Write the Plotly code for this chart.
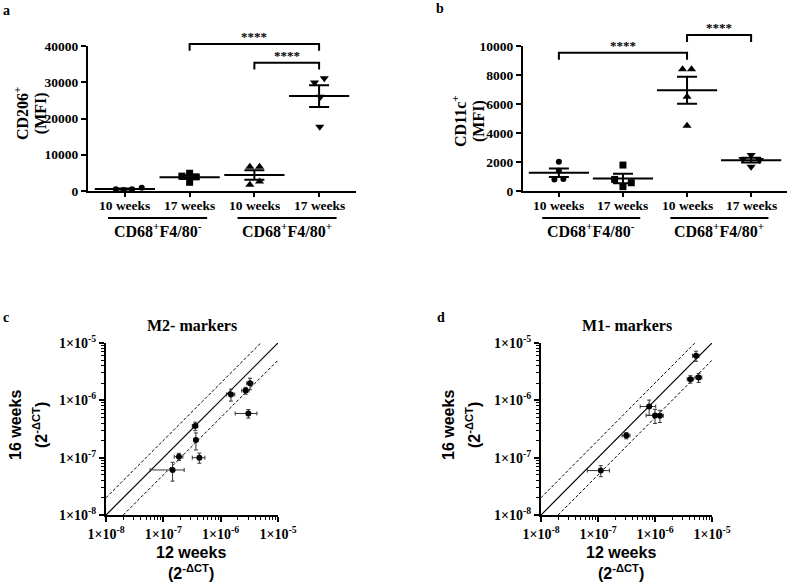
import numpy as np
import plotly.graph_objects as go

W, H = 787, 585
def px(x): return x / W
def py(y): return 1 - y / H

SERIF = "Liberation Serif"
SANS = "Liberation Sans"

# ---------------- data ----------------
cats = ["10 weeks", "17 weeks", "10 weeks", "17 weeks"]
group_labels = ["CD68<sup>+</sup>F4/80<sup>-</sup>", "CD68<sup>+</sup>F4/80<sup>+</sup>"]

# panel a: CD206+ (MFI)
a_neg10 = [450, 280, 470, 900]
a_neg17 = [4100, 4900, 3900, 2400]
a_pos10 = [6700, 6700, 1700, 2600]
a_pos17 = [31100, 29900, 26000, 17700]
# panel b: CD11c+ (MFI)
b_neg10 = [2020, 1400, 800, 820]
b_neg17 = [1790, 800, 570, 300]
b_pos10 = [8400, 8400, 6500, 4500]
b_pos17 = [2480, 2200, 2140, 1680]

# significance brackets: (from group, to group, height, label)
a_sig = [(1, 3, 40550, "****"), (2, 3, 35400, "****")]
b_sig = [(0, 2, 9540, "****"), (2, 3, 10760, "****")]

# panel c: M2 markers (12 weeks vs 16 weeks, 2^-dCT)
c_x = [1.45e-7, 1.87e-7, 3.6e-7, 3.7e-7, 4.25e-7, 1.51e-6, 2.73e-6, 3.25e-6, 3.04e-6]
c_y = [6.1e-8, 1.04e-7, 3.56e-7, 2.03e-7, 1.0e-7, 1.27e-6, 1.48e-6, 1.98e-6, 5.9e-7]
c_xerr = [8.6e-8, 3.2e-8, 4e-8, 3e-8, 1.05e-7, 2.5e-7, 4e-7, 4e-7, 1.25e-6]
c_yerr = [2.2e-8, 1.5e-8, 6e-8, 6.7e-8, 2e-8, 3e-7, 2e-7, 4.5e-7, 1e-7]
# panel d: M1 markers
d_x = [1.12e-7, 3.14e-7, 7.9e-7, 1.0e-6, 1.22e-6, 4.18e-6, 5.83e-6, 5.25e-6]
d_y = [5.95e-8, 2.43e-7, 7.8e-7, 5.45e-7, 5.4e-7, 2.34e-6, 2.5e-6, 6.0e-6]
d_xerr = [4.7e-8, 5e-8, 2.4e-7, 3e-7, 1.8e-7, 5e-7, 8e-7, 7e-7]
d_yerr = [1.3e-8, 3e-8, 2.3e-7, 1.5e-7, 1.3e-7, 3.5e-7, 4.5e-7, 1.2e-6]

decades = [1e-8, 1e-7, 1e-6, 1e-5]
decade_labels = ["1×10<sup>-8</sup>", "1×10<sup>-7</sup>", "1×10<sup>-6</sup>", "1×10<sup>-5</sup>"]
FOLD = 2

# ---------------- styles ----------------
symbols = ["circle", "square", "triangle-up", "triangle-down"]
msizes = [6, 7, 8, 8]
a_off = [[-0.14, -0.02, 0.11, 0.26], [-0.12, 0, 0.1, 0], [-0.07, 0.08, -0.07, 0.08], [0.08, -0.07, 0.02, 0.01]]
b_off = [[0, 0, -0.07, 0.07], [0, -0.13, 0.13, 0], [-0.07, 0.07, 0, 0], [0, -0.13, 0.13, 0]]

fig = go.Figure()
fig.update_layout(template="none")

A_DOM_Y = [py(191), py(46)]
XR = [-0.57, 3.57]
XRB = [-0.56, 3.56]

def add_scatter_panel(groups, offs, xa, ya):
    for gi, vals in enumerate(groups):
        fig.add_trace(go.Scatter(
            x=[gi + o for o in offs[gi]], y=vals, mode="markers", xaxis=xa, yaxis=ya,
            cliponaxis=False, hoverinfo="skip",
            marker=dict(symbol=symbols[gi], size=msizes[gi], color="black", line=dict(width=0))))
    means = [float(np.mean(v)) for v in groups]
    sems = [float(np.std(v, ddof=1) / np.sqrt(len(v))) for v in groups]
    fig.add_trace(go.Scatter(
        x=list(range(len(groups))), y=means, mode="markers", xaxis=xa, yaxis=ya,
        cliponaxis=False, hoverinfo="skip",
        marker=dict(symbol="line-ew", size=43, line=dict(width=2, color="black"), color="black"),
        error_y=dict(type="data", array=sems, visible=True, thickness=2, width=10, color="black")))

add_scatter_panel([a_neg10, a_neg17, a_pos10, a_pos17], a_off, "x", "y")
add_scatter_panel([b_neg10, b_neg17, b_pos10, b_pos17], b_off, "x2", "y2")

# ---- c & d ----
def add_xy_panel(xs, ys, xe, ye, xa, ya):
    lo, hi = decades[0], decades[-1]
    fig.add_trace(go.Scatter(x=[lo, hi], y=[lo, hi], mode="lines", xaxis=xa, yaxis=ya,
                             hoverinfo="skip", line=dict(color="black", width=1.2)))
    fig.add_trace(go.Scatter(x=[lo, hi / FOLD], y=[lo * FOLD, hi], mode="lines", xaxis=xa, yaxis=ya,
                             hoverinfo="skip", line=dict(color="black", width=1, dash="3px,2px")))
    fig.add_trace(go.Scatter(x=[lo * FOLD, hi], y=[lo, hi / FOLD], mode="lines", xaxis=xa, yaxis=ya,
                             hoverinfo="skip", line=dict(color="black", width=1, dash="3px,2px")))
    fig.add_trace(go.Scatter(
        x=xs, y=ys, mode="markers", xaxis=xa, yaxis=ya, cliponaxis=False, hoverinfo="skip",
        marker=dict(symbol="circle", size=6, color="black", line=dict(width=0)),
        error_x=dict(type="data", array=xe, visible=True, thickness=1, width=2, color="#333"),
        error_y=dict(type="data", array=ye, visible=True, thickness=1, width=2, color="#333")))

add_xy_panel(c_x, c_y, c_xerr, c_yerr, "x3", "y3")
add_xy_panel(d_x, d_y, d_xerr, d_yerr, "x4", "y4")

tickfont = dict(family=SERIF, size=13.5, color="black", weight="bold")
logfont = dict(family=SERIF, size=14, color="black", weight="bold")
minor_vals = [m * 10.0 ** e for e in range(-8, -5) for m in range(2, 10)]

common = dict(automargin=False, showgrid=False, zeroline=False, showline=True, linewidth=2,
              linecolor="black", ticks="outside", ticklen=5, tickwidth=2, tickcolor="black",
              tickfont=tickfont, fixedrange=True)
cat_axis = dict(common, tickmode="array", tickvals=[0, 1, 2, 3], showticklabels=False, ticklen=4)
val_axis = dict(common, tickformat="d")
log_axis = dict(common, type="log", range=[-8, -5], tickmode="array", tickvals=decades, ticktext=decade_labels,
                tickfont=logfont,
                minor=dict(tickmode="array", tickvals=minor_vals, ticks="outside", ticklen=3,
                           tickwidth=1, tickcolor="black", showgrid=False))

fig.update_layout(
    width=W, height=H, margin=dict(l=0, r=0, t=0, b=0, pad=0), autosize=False,
    paper_bgcolor="white", plot_bgcolor="white", showlegend=False,
    xaxis=dict(cat_axis, domain=[px(88), px(356)], range=XR, anchor="y"),
    yaxis=dict(val_axis, domain=A_DOM_Y, range=[0, 40000], tickvals=[0, 10000, 20000, 30000, 40000], anchor="x"),
    xaxis2=dict(cat_axis, domain=[px(523), px(787)], range=XRB, anchor="y2"),
    yaxis2=dict(val_axis, domain=A_DOM_Y, range=[0, 10000], tickvals=[0, 2000, 4000, 6000, 8000, 10000], anchor="x2"),
    xaxis3=dict(log_axis, domain=[px(106), px(278)], anchor="y3"),
    yaxis3=dict(log_axis, domain=[py(515), py(343)], anchor="x3"),
    xaxis4=dict(log_axis, domain=[px(541), px(712)], anchor="y4"),
    yaxis4=dict(log_axis, domain=[py(515), py(343)], anchor="x4"),
)

def val_to_paper(v, rmax):
    return A_DOM_Y[0] + v / rmax * (A_DOM_Y[1] - A_DOM_Y[0])

shapes, annots = [], []
for sig, xref, rmax, drop in [(a_sig, "x", 40000, 1850), (b_sig, "x2", 10000, 480)]:
    for g0, g1, h, lab in sig:
        yt = val_to_paper(h, rmax)
        yb = val_to_paper(h - drop, rmax)
        shapes.append(dict(type="path", xref=xref, yref="paper",
                           path=f"M {g0},{yb} L {g0},{yt} L {g1},{yt} L {g1},{yb}",
                           line=dict(color="black", width=2)))
        annots.append(dict(x=(g0 + g1) / 2, y=yt + 2 / H, xref=xref, yref="paper", text=lab,
                           showarrow=False, yanchor="bottom", yshift=-4,
                           font=dict(family=SERIF, size=13, color="black", weight="bold")))
    # category labels under the axis
    for ci, c in enumerate(cats):
        annots.append(dict(x=ci, y=py(205), xref=xref, yref="paper", text=c, showarrow=False,
                           yanchor="middle", font=tickfont))
    for gi, (s0, s1) in enumerate([(-0.26, 1.27), (1.74, 3.27)]):
        shapes.append(dict(type="line", xref=xref, yref="paper", x0=s0, x1=s1, y0=py(218), y1=py(218),
                           line=dict(color="black", width=2)))
        annots.append(dict(x=(s0 + s1) / 2, y=py(230), xref=xref, yref="paper", text=group_labels[gi],
                           showarrow=False, yanchor="middle",
                           font=dict(family=SERIF, size=16, color="black", weight="bold")))

def txt(x, y, text, size, family, angle=0):
    annots.append(dict(x=px(x), y=py(y), xref="paper", yref="paper", text=text, showarrow=False,
                       textangle=angle, xanchor="center", yanchor="middle", align="center",
                       font=dict(family=family, size=size, color="black", weight="bold")))

def two_lines(l1, l2, size):
    s = f"<span style='font-size:{size}px'>"
    return f"{s}{l1}</span><br>{s}{l2}</span>"

# panel letters
txt(6, 10, "a", 14, SERIF); txt(440, 9, "b", 14, SERIF)
txt(6, 317, "c", 14, SERIF); txt(441, 317, "d", 14, SERIF)
# y titles a/b (line spacing set by outer font size)
txt(31, 114, two_lines("CD206<sup>+</sup>", "(MFI)", 16), 14, SERIF, -90)
txt(469, 121, two_lines("CD11c<sup>+</sup>", "(MFI)", 16), 14, SERIF, -90)
# titles c/d
txt(192, 325, "M2- markers", 16, SERIF); txt(627, 325, "M1- markers", 16, SERIF)
# axis titles c/d
for cx, yx in [(191, 28), (621, 461)]:
    txt(cx, 563, "12 weeks<br>(2<sup>-ΔCT</sup>)", 16, SANS)
    txt(yx, 425, two_lines("16 weeks", "(2<sup>-ΔCT</sup>)", 16), 20, SANS, -90)

fig.update_layout(shapes=shapes, annotations=annots)
fig.write_html("out.html", config={"displayModeBar": False},
               post_script="document.body.style.margin='0px';document.body.style.overflow='hidden';")
